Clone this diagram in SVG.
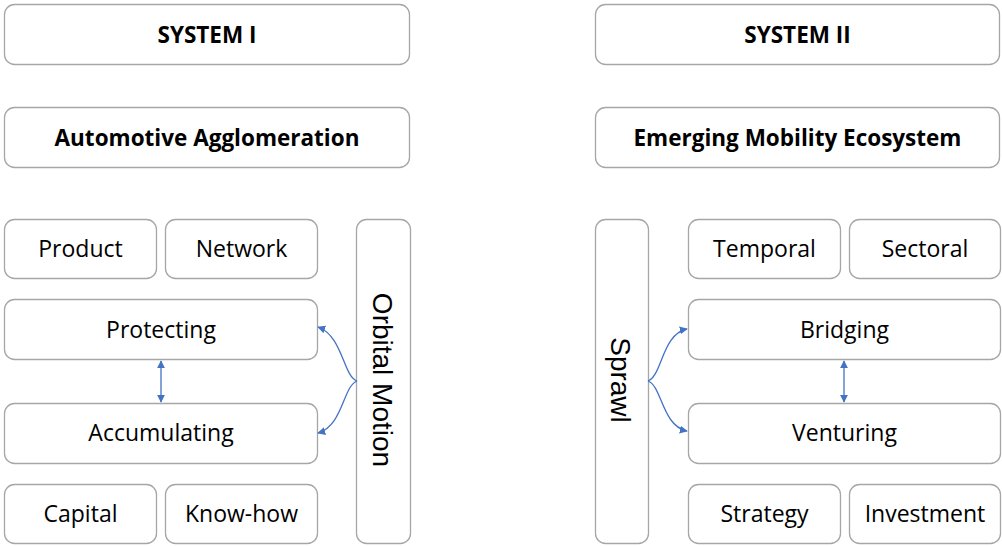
<svg xmlns="http://www.w3.org/2000/svg" width="1002" height="546" viewBox="0 0 1002 546">
<style>
.box{fill:#fff;stroke:#a6a6a6;stroke-width:1.3}
.t{font-family:"Open Sans","Noto Sans",sans-serif;font-size:23px;fill:#000;text-anchor:middle}
.b{font-family:"Open Sans","Noto Sans",sans-serif;font-size:22.5px;font-weight:bold;fill:#000;text-anchor:middle}
.v{font-family:"Liberation Sans",Arial,sans-serif;font-size:28px;fill:#000;text-anchor:middle}
.c{fill:none;stroke:#4472c4;stroke-width:1.3}
</style>
<defs>
<marker id="ah" viewBox="0 0 10 10" refX="9" refY="5" markerWidth="8" markerHeight="8" markerUnits="userSpaceOnUse" orient="auto-start-reverse">
<path d="M0,0 L10,5 L0,10 z" fill="#4472c4"/>
</marker>
</defs>
<rect width="1002" height="546" fill="#fff"/>
<g id="sys1"><rect class="box" x="4.5" y="4.5" width="405" height="60" rx="10"/><text class="b" x="207" y="43">SYSTEM I</text></g>
<g id="auto"><rect class="box" x="4.5" y="107.5" width="405" height="60" rx="10"/><text class="b" x="207" y="146">Automotive Agglomeration</text></g>
<g id="sys2"><rect class="box" x="595.5" y="4.5" width="404" height="60" rx="10"/><text class="b" x="797.5" y="43">SYSTEM II</text></g>
<g id="emerg"><rect class="box" x="595.5" y="107.5" width="404" height="60" rx="10"/><text class="b" x="797.5" y="146">Emerging Mobility Ecosystem</text></g>

<g id="product"><rect class="box" x="4.5" y="219.5" width="152" height="59" rx="10"/><text class="t" x="80.5" y="257">Product</text></g>
<g id="network"><rect class="box" x="165.5" y="219.5" width="152" height="59" rx="10"/><text class="t" x="241.5" y="257">Network</text></g>
<g id="protecting"><rect class="box" x="4.5" y="299.5" width="313" height="60" rx="10"/><text class="t" x="161" y="338">Protecting</text></g>
<g id="accumulating"><rect class="box" x="4.5" y="403.5" width="313" height="60" rx="10"/><text class="t" x="161" y="441">Accumulating</text></g>
<g id="capital"><rect class="box" x="4.5" y="484.5" width="152" height="59" rx="10"/><text class="t" x="80.5" y="522">Capital</text></g>
<g id="knowhow"><rect class="box" x="165.5" y="484.5" width="152" height="59" rx="10"/><text class="t" x="241.5" y="522">Know-how</text></g>
<g id="orbital"><rect class="box" x="356.5" y="219.5" width="54" height="324" rx="10"/><text class="v" transform="translate(373,380) rotate(90)" x="0" y="0">Orbital Motion</text></g>

<g id="sprawl"><rect class="box" x="595.5" y="219.5" width="53" height="324" rx="10"/><text class="v" transform="translate(611,380) rotate(90)" x="0" y="0">Sprawl</text></g>
<g id="temporal"><rect class="box" x="688.5" y="219.5" width="152" height="59" rx="10"/><text class="t" x="764.5" y="257">Temporal</text></g>
<g id="sectoral"><rect class="box" x="849.5" y="219.5" width="151" height="59" rx="10"/><text class="t" x="925" y="257">Sectoral</text></g>
<g id="bridging"><rect class="box" x="688.5" y="299.5" width="312" height="60" rx="10"/><text class="t" x="844.5" y="338">Bridging</text></g>
<g id="venturing"><rect class="box" x="688.5" y="403.5" width="312" height="60" rx="10"/><text class="t" x="844.5" y="441">Venturing</text></g>
<g id="strategy"><rect class="box" x="688.5" y="484.5" width="152" height="59" rx="10"/><text class="t" x="764.5" y="522">Strategy</text></g>
<g id="investment"><rect class="box" x="849.5" y="484.5" width="151" height="59" rx="10"/><text class="t" x="925" y="522">Investment</text></g>

<g id="connectors">
<line class="c" x1="161" y1="361" x2="161" y2="402" marker-start="url(#ah)" marker-end="url(#ah)"/>
<line class="c" x1="844" y1="361" x2="844" y2="402" marker-start="url(#ah)" marker-end="url(#ah)"/>
<path class="c" d="M357,381 C343,376 343,336 318,327" marker-end="url(#ah)"/>
<path class="c" d="M357,381 C343,386 343,426 318,433" marker-end="url(#ah)"/>
<path class="c" d="M648,381 C662,376 662,334 687,329" marker-end="url(#ah)"/>
<path class="c" d="M648,381 C662,386 662,426 687,431" marker-end="url(#ah)"/>
</g>
</svg>
